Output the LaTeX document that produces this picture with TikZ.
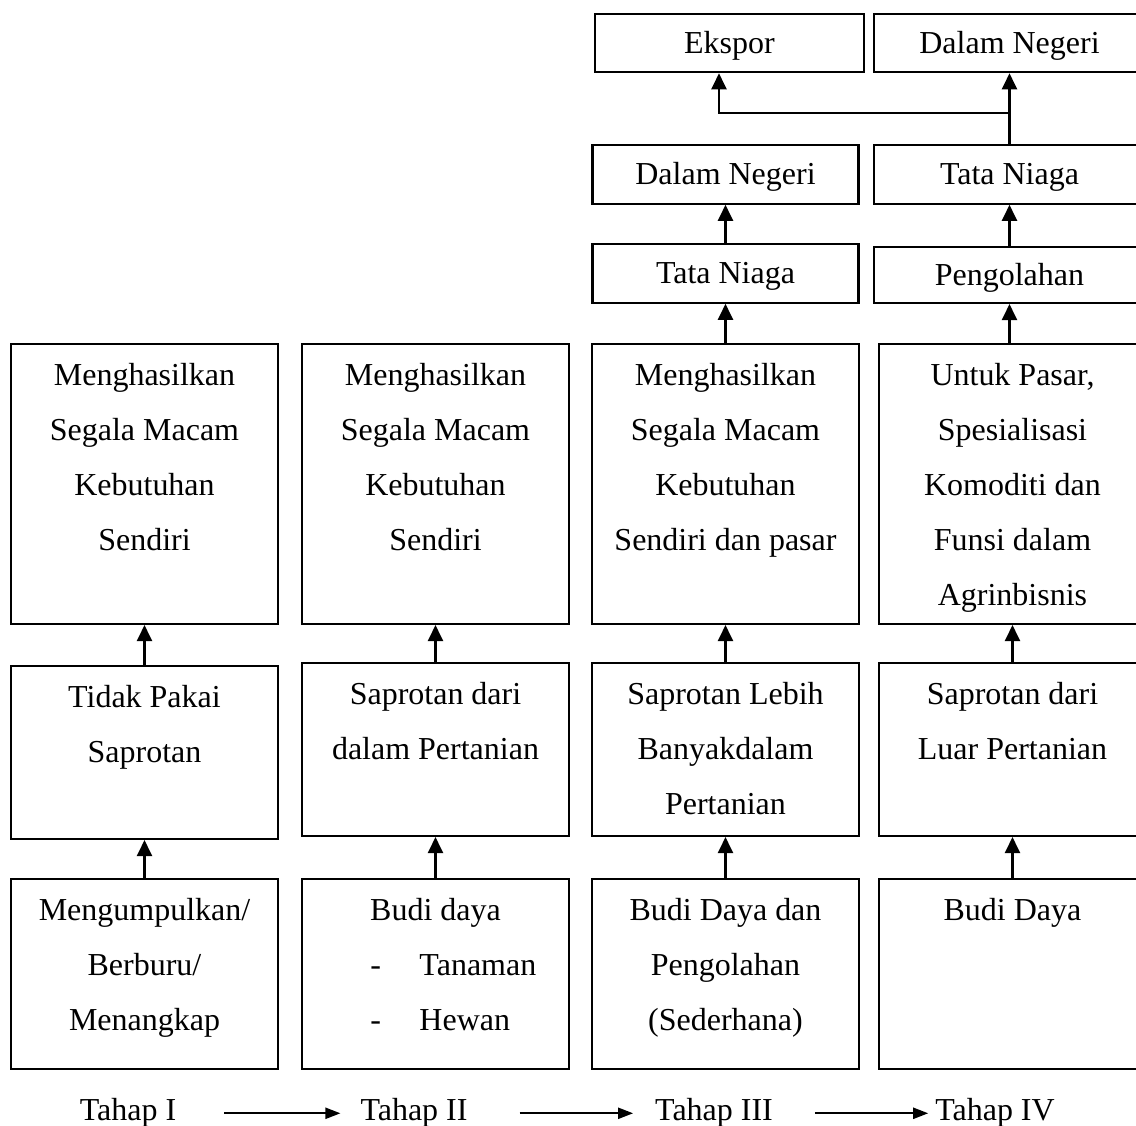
\documentclass[tikz,border=0pt]{standalone}
\usepackage{fontspec}
\setmainfont{Liberation Serif}
\usetikzlibrary{arrows.meta,positioning}
\begin{document}
\begin{tikzpicture}[
    font=\fontsize{9.1}{15.65}\selectfont,
    line width=0.6pt,
    box/.style={rectangle, draw, inner sep=0pt, minimum width=2.67cm},
    smallbox/.style={box, minimum height=0.585cm, text height=0.21cm, text depth=0pt},
    txt/.style={align=center, inner sep=0pt},
    stage/.style={inner sep=0pt, anchor=base},
    stagearrow/.style={-{Triangle[length=0.15cm, width=0.11cm]}},
    >={Triangle[length=0.16cm, width=0.15cm]}
]
    \useasboundingbox (0,0) rectangle (11.36,11.26);
    \clip (0,0) rectangle (11.36,11.26);

    % Tahap III: marketing chain
    \node[smallbox, minimum width=2.66cm] (tataniaga3)   at (7.255,8.525) {Tata Niaga};
    \node[smallbox, minimum width=2.66cm] (dalamnegeri3) at (7.255,9.515) {Dalam Negeri};

    % Tahap IV: processing, marketing, markets
    \node[smallbox, minimum width=2.71cm, minimum height=0.56cm] (pengolahan4) at (10.095,8.51) {Pengolahan};
    \node[smallbox, minimum width=2.71cm] (tataniaga4)   at (10.095,9.515) {Tata Niaga};
    \node[smallbox, minimum width=2.71cm] (dalamnegeri4) at (10.095,10.83) {Dalam Negeri};
    \node[smallbox, minimum width=2.69cm] (ekspor)       at (7.295,10.83)  {Ekspor};

    % Results
    \node[box, minimum height=2.80cm] (hasil1) at (1.445,6.42)  {};
    \node[box, minimum height=2.80cm] (hasil2) at (4.355,6.42)  {};
    \node[box, minimum height=2.80cm] (hasil3) at (7.255,6.42)  {};
    \node[box, minimum height=2.80cm] (hasil4) at (10.125,6.42) {};

    \node[txt, below=0.19cm of hasil1.north] (hasil1t) {Menghasilkan\\Segala Macam\\Kebutuhan\\Sendiri};
    \node[txt, below=0.19cm of hasil2.north] (hasil2t) {Menghasilkan\\Segala Macam\\Kebutuhan\\Sendiri};
    \node[txt, below=0.19cm of hasil3.north] (hasil3t) {Menghasilkan\\Segala Macam\\Kebutuhan\\Sendiri dan pasar};
    \node[txt, below=0.19cm of hasil4.north] (hasil4t) {Untuk Pasar,\\Spesialisasi\\Komoditi dan\\Funsi dalam\\Agrinbisnis};

    % Saprotan
    \node[box, minimum height=1.73cm] (saprotan1) at (1.445,3.735)  {};
    \node[box, minimum height=1.73cm] (saprotan2) at (4.355,3.765)  {};
    \node[box, minimum height=1.73cm] (saprotan3) at (7.255,3.765)  {};
    \node[box, minimum height=1.73cm] (saprotan4) at (10.125,3.765) {};

    \node[txt, below=0.19cm of saprotan1.north] (saprotan1t) {Tidak Pakai\\Saprotan};
    \node[txt, below=0.19cm of saprotan2.north] (saprotan2t) {Saprotan dari\\dalam Pertanian};
    \node[txt, below=0.19cm of saprotan3.north] (saprotan3t) {Saprotan Lebih\\Banyakdalam\\Pertanian};
    \node[txt, below=0.19cm of saprotan4.north] (saprotan4t) {Saprotan dari\\Luar Pertanian};

    % Activities
    \node[box, minimum height=1.90cm] (budi1) at (1.445,1.52)  {};
    \node[box, minimum height=1.90cm] (budi2) at (4.355,1.52)  {};
    \node[box, minimum height=1.90cm] (budi3) at (7.255,1.52)  {};
    \node[box, minimum height=1.90cm] (budi4) at (10.125,1.52) {};

    \node[txt, below=0.19cm of budi1.north] (budi1t) {Mengumpulkan/\\Berburu/\\Menangkap};
    \node[txt, below=0.19cm of budi2.north] (budi2t) {Budi daya\\
        \makebox[1.3cm][l]{\makebox[0.49cm][l]{-}Tanaman}\\
        \makebox[1.3cm][l]{\makebox[0.49cm][l]{-}Hewan}};
    \node[txt, below=0.19cm of budi3.north] (budi3t) {Budi Daya dan\\Pengolahan\\(Sederhana)};
    \node[txt, below=0.19cm of budi4.north] (budi4t) {Budi Daya};

    % Upward flow in each stage
    \draw[->] (budi1) -- (saprotan1);
    \draw[->] (budi2) -- (saprotan2);
    \draw[->] (budi3) -- (saprotan3);
    \draw[->] (budi4) -- (saprotan4);
    \draw[->] (saprotan1) -- (hasil1);
    \draw[->] (saprotan2) -- (hasil2);
    \draw[->] (saprotan3) -- (hasil3);
    \draw[->] (saprotan4) -- (hasil4);

    % Stage III chain
    \draw[->] (hasil3) -- (tataniaga3);
    \draw[->] (tataniaga3) -- (dalamnegeri3);

    % Stage IV chain
    \draw[->] (pengolahan4.south |- hasil4.north) -- (pengolahan4.south);
    \draw[->] (pengolahan4) -- (tataniaga4);
    \draw[->] (tataniaga4) -- (dalamnegeri4);
    \coordinate (cabang) at (10.095,10.13);
    \draw[->] (cabang) -| ([xshift=-0.105cm]ekspor.south);

    % Stages
    \node[stage] (tahap1) at (1.28,0.05) {Tahap I};
    \node[stage] (tahap2) at (4.14,0.05) {Tahap II};
    \node[stage] (tahap3) at (7.14,0.05) {Tahap III};
    \node[stage] (tahap4) at (9.95,0.05) {Tahap IV};

    \draw[stagearrow, shorten <=0.47cm, shorten >=0.19cm] (tahap1.east) -- (tahap2.west);
    \draw[stagearrow, shorten <=0.51cm, shorten >=0.21cm] (tahap2.east) -- (tahap3.west);
    \draw[stagearrow, shorten <=0.41cm, shorten >=0.06cm] (tahap3.east) -- (tahap4.west);
\end{tikzpicture}
\end{document}
